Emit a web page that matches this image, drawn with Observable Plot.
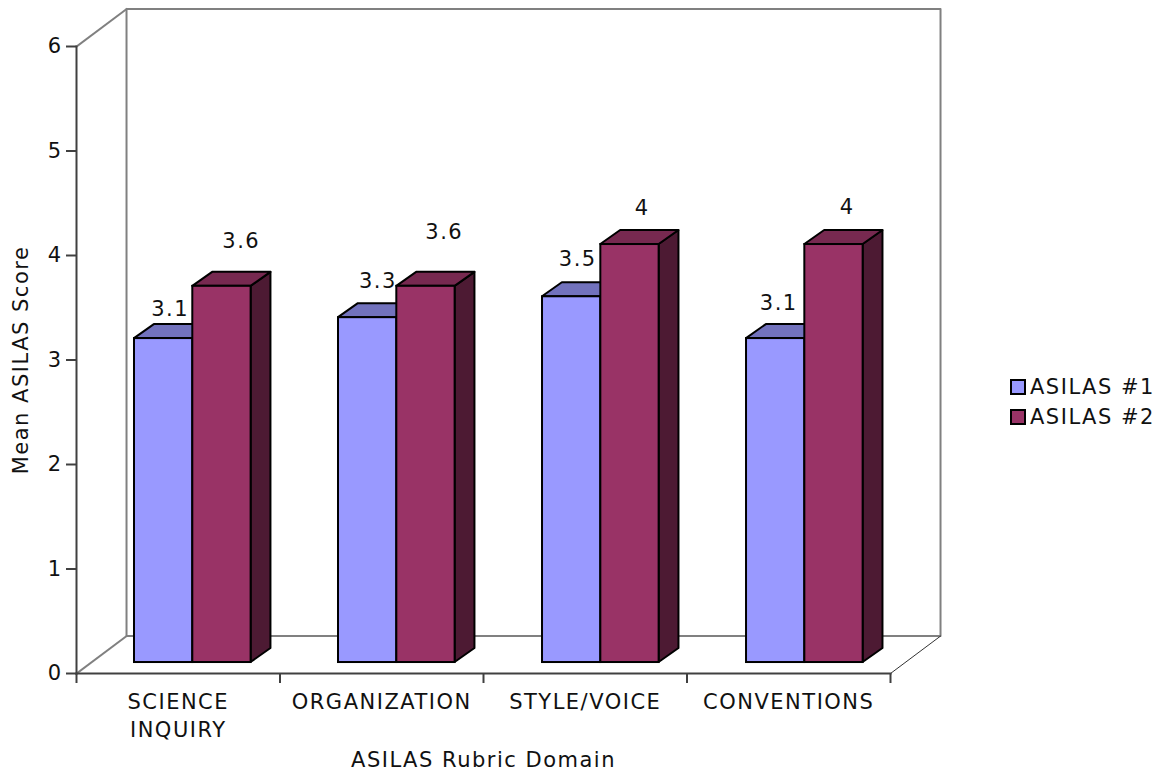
<!DOCTYPE html>
<html>
<head>
<meta charset="utf-8">
<title>Mean ASILAS Score by Rubric Domain</title>
<script src="https://cdn.jsdelivr.net/npm/d3@7"></script>
<script src="https://cdn.jsdelivr.net/npm/@observablehq/plot@0.6"></script>
<style>
  html, body { margin: 0; background: #fff; }
  #chart { position: relative; width: 1163px; height: 771px; font-family: "DejaVu Sans", sans-serif; color: #111; letter-spacing: 1.5px; }
  #legend { position: absolute; left: 1010px; top: 372px; font-size: 21px; }
  #legend div { display: flex; align-items: center; height: 30px; white-space: pre; }
  #legend i { display: block; box-sizing: border-box; width: 16px; height: 16px; border: 2px solid #000; margin-right: 4px; }
</style>
</head>
<body>
<div id="chart"></div>
<script>
// Mean scores per rubric domain for the two assessment rounds
const domains = ["SCIENCE\nINQUIRY", "ORGANIZATION", "STYLE/VOICE", "CONVENTIONS"];
const asilas1 = [3.1, 3.3, 3.5, 3.1];
const asilas2 = [3.6, 3.6, 4, 4];
const seriesNames = ["ASILAS #1", "ASILAS #2"];
const yTicks = [0, 1, 2, 3, 4, 5, 6];

// Oblique projection, in scale units: one category is 1 on x, one score point is 1 on y
const wallX = 0.2458, wallY = 0.358;     // depth of the chart box
const barDepthX = 0.0975, barDepthY = 0.134; // depth of each bar
const liftY = 0.105;                     // bars stand slightly behind the front edge
const barStart = 0.285, barWidth = 0.2865, barStep = 1.0025;

// Label displacement from the top of each bar's front face, in scale units
const labelShift = [
  [[0.032, 0.28], [0.095, 0.43]],
  [[0.05, 0.345], [0.09, 0.52]],
  [[0.03, 0.355], [0.06, 0.345]],
  [[0.015, 0.335], [0.065, 0.355]]
];

const palette = [
  {front: "#9999ff", top: "#7272bd"},
  {front: "#993366", top: "#772950", side: "#4d1a33"}
];

const bars = [asilas1, asilas2].flatMap((values, s) =>
  values.map((v, c) => {
    const x1 = c * barStep + barStart + s * barWidth;
    return {s, c, v, x1, x2: x1 + barWidth, y1: liftY, y2: v + liftY, ...palette[s]};
  })
);

// Two-edge rows for the slanted top and side faces
const topFaces = bars.flatMap((b) => [
  {id: `${b.s}-${b.c}`, fill: b.top, x1: b.x1, x2: b.x2, y1: b.y2, y2: b.y2},
  {id: `${b.s}-${b.c}`, fill: b.top, x1: b.x1 + barDepthX, x2: b.x2 + barDepthX, y1: b.y2 + barDepthY, y2: b.y2 + barDepthY}
]);
const sideFaces = bars.filter((b) => b.side).flatMap((b) => [
  {id: `${b.s}-${b.c}`, fill: b.side, x1: b.x2, x2: b.x2, y1: b.y1, y2: b.y2},
  {id: `${b.s}-${b.c}`, fill: b.side, x1: b.x2 + barDepthX, x2: b.x2 + barDepthX, y1: b.y1 + barDepthY, y2: b.y2 + barDepthY}
]);

const n = domains.length, yMax = yTicks[yTicks.length - 1];
const grey = "#808080", axisInk = "#404040";
const line = (pts, stroke, strokeWidth = 2) =>
  Plot.line(pts, {x: "0", y: "1", stroke, strokeWidth, strokeLinecap: "square"});

const plot = Plot.plot({
  width: 1163,
  height: 771,
  marginLeft: 76,
  marginRight: 273,
  marginTop: 46,
  marginBottom: 98,
  style: {fontFamily: '"DejaVu Sans", sans-serif', fontSize: "21px", letterSpacing: "1.5px", color: "#111", background: "#fff", overflow: "visible"},
  x: {type: "linear", domain: [0, n]},
  y: {type: "linear", domain: [0, yMax]},
  marks: [
    // Box behind the bars
    line([[wallX, wallY], [wallX, yMax + wallY], [n + wallX, yMax + wallY], [n + wallX, wallY], [wallX, wallY]], grey),
    line([[0, yMax], [wallX, yMax + wallY]], grey),
    line([[0, 0], [wallX, wallY]], grey),
    line([[n, 0], [n + wallX, wallY]], "#333", 1),

    // Bars: slanted faces, then the front
    Plot.area(topFaces.filter((d) => d.id[0] === "0"), {x1: "x1", x2: "x2", y1: "y1", y2: "y2", z: "id", fill: "fill", stroke: "#000", strokeWidth: 2}),
    Plot.rect(bars.filter((b) => b.s === 0), {x1: "x1", x2: "x2", y1: "y1", y2: "y2", fill: "front", stroke: "#000", strokeWidth: 2}),
    Plot.area(sideFaces, {x1: "x1", x2: "x2", y1: "y1", y2: "y2", z: "id", fill: "fill", stroke: "#000", strokeWidth: 2}),
    Plot.area(topFaces.filter((d) => d.id[0] === "1"), {x1: "x1", x2: "x2", y1: "y1", y2: "y2", z: "id", fill: "fill", stroke: "#000", strokeWidth: 2}),
    Plot.rect(bars.filter((b) => b.s === 1), {x1: "x1", x2: "x2", y1: "y1", y2: "y2", fill: "front", stroke: "#000", strokeWidth: 2}),

    // Value labels
    Plot.text(bars, {
      x: (b) => (b.x1 + b.x2) / 2 + labelShift[b.c][b.s][0],
      y: (b) => b.y2 + labelShift[b.c][b.s][1],
      text: (b) => String(b.v),
      fontSize: 21,
      fill: "#111"
    }),

    // Axes
    Plot.axisY({ticks: yTicks, tickFormat: "d", tickSize: 10, tickPadding: 4, stroke: axisInk, strokeWidth: 2, label: "Mean ASILAS Score", labelAnchor: "center", labelArrow: "none", labelOffset: 63, marginLeft: 76, fontSize: 21}),
    Plot.ruleX(d3.range(n + 1), {x: (d) => d, y1: 0, y2: 0, stroke: axisInk, strokeWidth: 2, insetBottom: -10}),
    Plot.axisX({
      ticks: domains.map((_, i) => i + 0.5),
      tickFormat: (d) => domains[Math.floor(d)],
      tickSize: 0,
      tickPadding: 16,
      lineAnchor: "top",
      lineHeight: 1.33,
      label: "ASILAS Rubric Domain",
      labelAnchor: "center",
      labelArrow: "none",
      labelOffset: 93.5,
      marginBottom: 98,
      fontSize: 21
    }),
    line([[0, 0], [0, yMax]], axisInk),
    line([[0, 0], [n, 0]], axisInk)
  ]
});

document.getElementById("chart").append(plot);

// Series key on the right of the plot
const legend = document.createElement("div");
legend.id = "legend";
seriesNames.forEach((name, i) => {
  const row = document.createElement("div");
  const swatch = document.createElement("i");
  swatch.style.background = palette[i].front;
  row.append(swatch, name);
  legend.append(row);
});
document.getElementById("chart").append(legend);
</script>
</body>
</html>
